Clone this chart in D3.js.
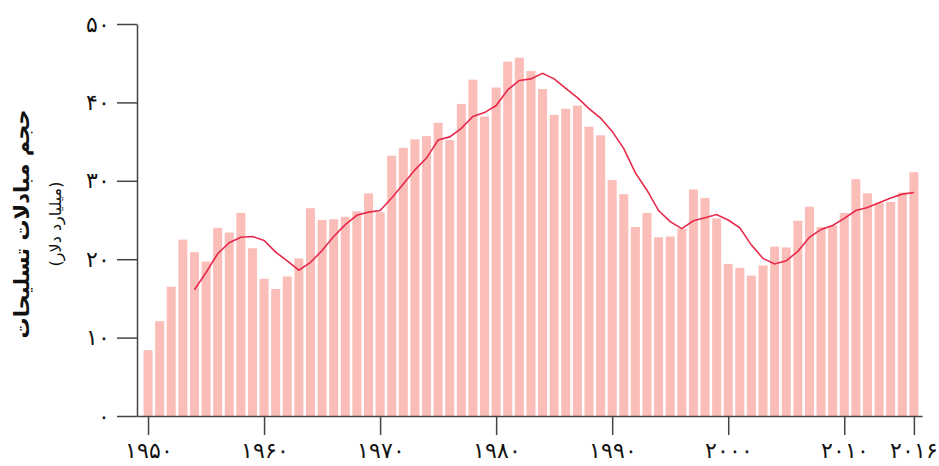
<!DOCTYPE html>
<html>
<head>
<meta charset="utf-8">
<script src="https://cdn.jsdelivr.net/npm/d3@7"></script>
<style>
    body { margin: 0; background: #fff; }
    svg { display: block; font-family: "DejaVu Sans", sans-serif; }
    .axis path, .axis line { stroke: #444; stroke-width: 1.5; }
    .axis text { fill: #111; font-size: 22px; }
</style>
</head>
<body>
<div id="chart"></div>
<script>
// Years shown on the chart
const years = d3.range(1950, 2017);

// Arms transfer volume per year (billion dollars)
const transfers = [
    8.4, 12.1, 16.5, 22.5, 20.9, 19.7, 24.0, 23.4, 25.9, 21.4,
    17.5, 16.2, 17.8, 20.1, 26.5, 25.0, 25.1, 25.4, 26.1, 28.4,
    26.0, 33.2, 34.2, 35.3, 35.7, 37.4, 35.2, 39.8, 42.9, 38.2,
    41.9, 45.2, 45.7, 44.0, 41.7, 38.4, 39.2, 39.6, 36.9, 35.8,
    30.1, 28.3, 24.1, 25.9, 22.8, 22.9, 23.9, 28.9, 27.8, 25.2,
    19.4, 18.9, 17.9, 19.2, 21.6, 21.5, 24.9, 26.7, 24.1, 24.3,
    25.9, 30.2, 28.4, 27.2, 27.3, 28.5, 31.1
];

// Trend line years and values
const trendYears = d3.range(1954, 2017);
const trendValues = [
    16.1, 18.3, 20.7, 22.1, 22.8, 22.9, 22.4, 20.9, 19.8, 18.6,
    19.6, 21.1, 22.9, 24.4, 25.6, 26.0, 26.2, 27.8, 29.6, 31.4,
    32.9, 35.2, 35.6, 36.7, 38.2, 38.7, 39.6, 41.6, 42.8, 43.0,
    43.7, 43.0, 41.8, 40.6, 39.2, 38.0, 36.3, 34.1, 31.0, 28.8,
    26.2, 24.8, 23.9, 24.9, 25.3, 25.7, 25.0, 24.0, 21.8, 20.1,
    19.4, 19.8, 21.0, 22.8, 23.8, 24.3, 25.2, 26.2, 26.6, 27.2,
    27.8, 28.3, 28.5
];

// Axis ticks
const xTicks = [1950, 1960, 1970, 1980, 1990, 2000, 2010, 2016];
const yTicks = [0, 10, 20, 30, 40, 50];

const yTitle = "حجم مبادلات تسلیحات";
const ySubtitle = "(میلیارد دلار)";

// Western digits -> Persian digits
const faDigits = "۰۱۲۳۴۵۶۷۸۹";
const toFa = n => String(n).replace(/\d/g, c => faDigits[+c]);

const width = 939, height = 466;

const svg = d3.select("#chart")
    .append("svg")
    .attr("width", width)
    .attr("height", height);

const x = d3.scaleLinear()
    .domain([1949.05, 2016.7])
    .range([137, 922]);

const y = d3.scaleLinear()
    .domain([0, 50])
    .range([416, 24]);

const barWidth = 9;

// Bars
svg.append("g")
    .selectAll("rect")
    .data(years)
    .enter().append("rect")
    .attr("x", d => x(d) - barWidth / 2)
    .attr("width", barWidth)
    .attr("y", (d, i) => y(transfers[i]))
    .attr("height", (d, i) => y(0) - y(transfers[i]))
    .attr("fill", "#fbbdb8");

// Trend line
const line = d3.line()
    .x(d => x(d[0]))
    .y(d => y(d[1]));

svg.append("path")
    .datum(trendYears.map((yr, i) => [yr, trendValues[i]]))
    .attr("d", line)
    .attr("fill", "none")
    .attr("stroke", "#e8294b")
    .attr("stroke-width", 1.6);

// X axis
svg.append("g")
    .attr("class", "axis")
    .attr("transform", `translate(0,${y(0)})`)
    .call(d3.axisBottom(x)
        .tickValues(xTicks)
        .tickFormat(toFa)
        .tickSize(19)
        .tickSizeOuter(0)
        .tickPadding(7));

// Y axis
svg.append("g")
    .attr("class", "axis")
    .attr("transform", `translate(137,0)`)
    .call(d3.axisLeft(y)
        .tickValues(yTicks)
        .tickFormat(toFa)
        .tickSize(20)
        .tickSizeOuter(0)
        .tickPadding(7));

// Y axis title
svg.append("text")
    .attr("transform", "translate(29,224) rotate(-90)")
    .attr("text-anchor", "middle")
    .style("font-size", "21px")
    .style("font-weight", "bold")
    .attr("fill", "#111")
    .text(yTitle);

svg.append("text")
    .attr("transform", "translate(61,224) rotate(-90)")
    .attr("text-anchor", "middle")
    .style("font-size", "16px")
    .attr("fill", "#111")
    .text(ySubtitle);
</script>
</body>
</html>
